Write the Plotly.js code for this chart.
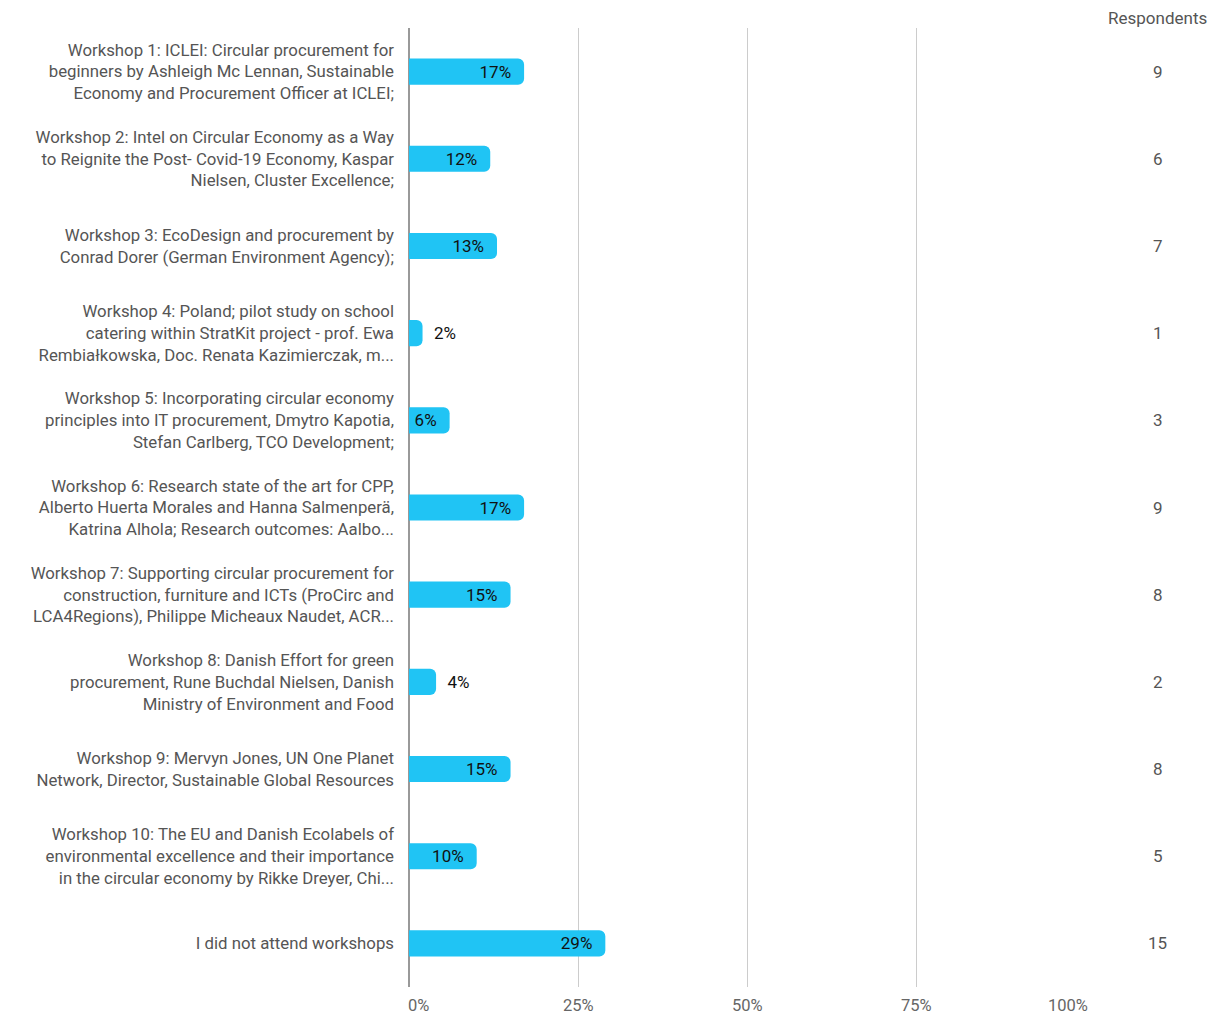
<!DOCTYPE html>
<html>
<head>
<meta charset="utf-8">
<script src="https://cdn.plot.ly/plotly-3.0.1.min.js"></script>
<style>html,body{margin:0;padding:0;background:#fff;}#chart{width:1223px;height:1017px;}</style>
</head>
<body>
<div id="chart"></div>
<script>
const categories = [
  "Workshop 1: ICLEI: Circular procurement for<br>beginners by Ashleigh Mc Lennan, Sustainable<br>Economy and Procurement Officer at ICLEI;",
  "Workshop 2: Intel on Circular Economy as a Way<br>to Reignite the Post- Covid-19 Economy, Kaspar<br>Nielsen, Cluster Excellence;",
  "Workshop 3: EcoDesign and procurement by<br>Conrad Dorer (German Environment Agency);",
  "Workshop 4: Poland; pilot study on school<br>catering within StratKit project - prof. Ewa<br>Rembiałkowska, Doc. Renata Kazimierczak, m...",
  "Workshop 5: Incorporating circular economy<br>principles into IT procurement, Dmytro Kapotia,<br>Stefan Carlberg, TCO Development;",
  "Workshop 6: Research state of the art for CPP,<br>Alberto Huerta Morales and Hanna Salmenperä,<br>Katrina Alhola; Research outcomes: Aalbo...",
  "Workshop 7: Supporting circular procurement for<br>construction, furniture and ICTs (ProCirc and<br>LCA4Regions), Philippe Micheaux Naudet, ACR...",
  "Workshop 8: Danish Effort for green<br>procurement, Rune Buchdal Nielsen, Danish<br>Ministry of Environment and Food",
  "Workshop 9: Mervyn Jones, UN One Planet<br>Network, Director, Sustainable Global Resources",
  "Workshop 10: The EU and Danish Ecolabels of<br>environmental excellence and their importance<br>in the circular economy by Rikke Dreyer, Chi...",
  "I did not attend workshops"
];
const percents = [17, 12, 13, 2, 6, 17, 15, 4, 15, 10, 29];
const respondents = [9, 6, 7, 1, 3, 9, 8, 2, 8, 5, 15];
const tickVals = [0, 25, 50, 75, 100];
const tickLabels = ["0%", "25%", "50%", "75%", "100%"];

const textPos = percents.map(p => p < 5 ? 'outside' : 'inside');
const texts = percents.map(p => p < 5 ? '\u00a0\u00a0' + p + '%' : p + '%\u00a0\u2009');

const trace = {
  type: 'bar',
  orientation: 'h',
  y: categories,
  x: percents,
  width: 0.3,
  marker: {color: '#20c4f4', cornerradius: 6},
  text: texts,
  textposition: textPos,
  insidetextanchor: 'end',
  textfont: {family: 'Roboto', size: 17, color: '#111'},
  insidetextfont: {family: 'Roboto', size: 17, color: '#111'},
  outsidetextfont: {family: 'Roboto', size: 17, color: '#111'},
  constraintext: 'none',
  cliponaxis: false,
  hoverinfo: 'none'
};

const annotations = respondents.map((r, i) => ({
  xref: 'paper', yref: 'y', x: 1.106, y: categories[i],
  text: String(r), showarrow: false, xanchor: 'center',
  font: {family: 'Roboto', size: 17, color: '#555'}
}));
annotations.push({
  xref: 'paper', yref: 'paper', x: 1.106, y: 1, yshift: 10,
  text: 'Respondents', showarrow: false, xanchor: 'center', yanchor: 'middle',
  font: {family: 'Roboto', size: 17, color: '#555'}
});
tickVals.forEach((v, i) => {
  const first = i === 0, last = i === tickVals.length - 1;
  annotations.push({
    xref: 'x', yref: 'paper', x: v, y: 0, yshift: -18,
    xshift: first ? -3 : (last ? 4 : 0),
    text: tickLabels[i], showarrow: false,
    xanchor: first ? 'left' : (last ? 'right' : 'center'),
    yanchor: 'middle',
    font: {family: 'Roboto', size: 16.5, color: '#666'}
  });
});

const layout = {
  width: 1223, height: 1017,
  margin: {l: 409, r: 137, t: 28, b: 30},
  paper_bgcolor: '#fff', plot_bgcolor: '#fff',
  showlegend: false,
  font: {family: 'Roboto', size: 17, color: '#555'},
  xaxis: {
    range: [0, 100], tickvals: tickVals, showticklabels: false,
    showgrid: true, gridcolor: '#cccccc', gridwidth: 1,
    zeroline: true, zerolinecolor: '#999', zerolinewidth: 1.5,
    showline: false, ticks: '', fixedrange: true
  },
  yaxis: {
    autorange: 'reversed', showgrid: false, zeroline: false, showline: false,
    ticks: '', ticklabelstandoff: 14,
    tickfont: {family: 'Roboto', size: 16.8, color: '#555'}
  },
  annotations: annotations
};

Plotly.newPlot('chart', [trace], layout, {displayModeBar: false, staticPlot: true});
</script>
</body>
</html>
